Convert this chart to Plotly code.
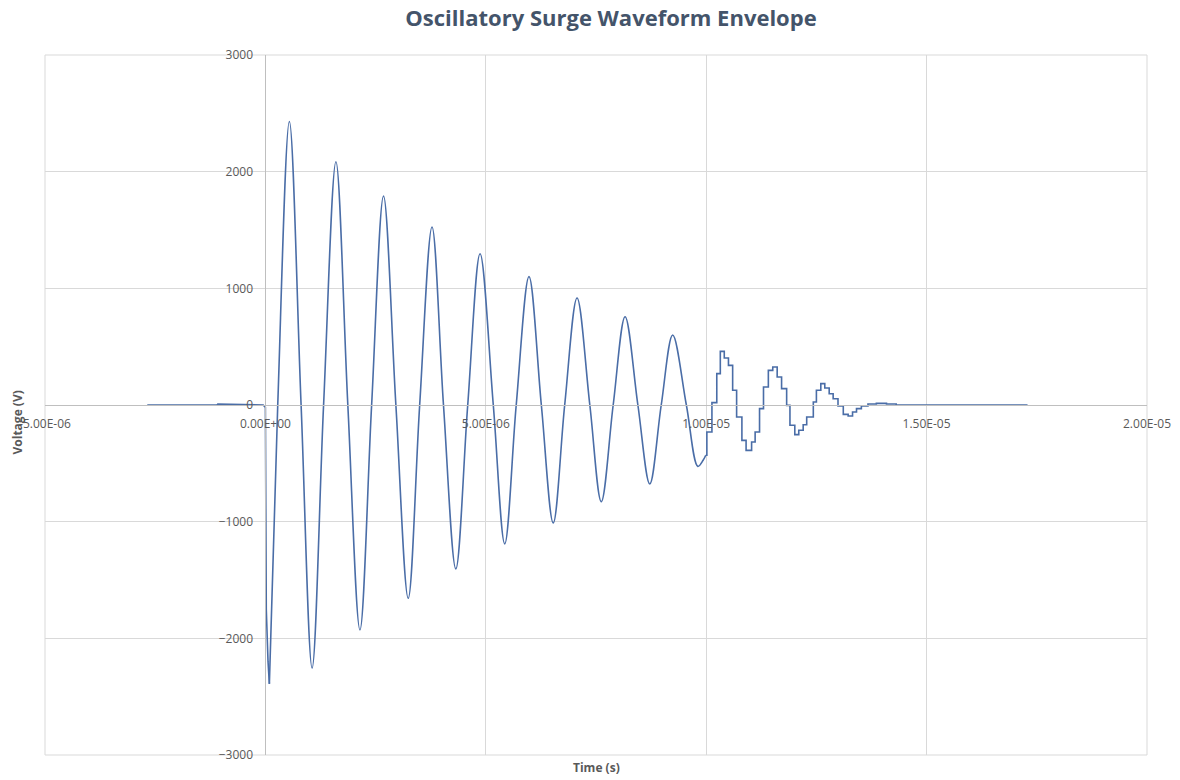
import numpy as np
import plotly.graph_objects as go

# ---- data (time in microseconds, voltage in volts) ----
# pre-trigger baseline and initial fall
t_start_us = [-2.68, -1.10, -1.08, -0.05, 0.00, 0.02, 0.06, 0.09]
v_start = [0, 0, 8, 0, -20, -1750, -2200, -2390]

# smooth ringing part: troughs, zero crossings and peaks
t_ring_us = [0.09, 0.28, 0.544, 0.81, 1.06, 1.32, 1.60, 1.87, 2.145, 2.41, 2.68,
             2.96, 3.24, 3.50, 3.78, 4.04, 4.32, 4.59, 4.87, 5.17, 5.43, 5.69,
             5.98, 6.26, 6.53, 6.79, 7.07, 7.36, 7.62, 7.89, 8.16, 8.45, 8.72,
             8.98, 9.24, 9.55, 9.81, 9.93, 9.99]
v_ring = [-2390, 0, 2430, 0, -2255, 0, 2085, 0, -1928, 0, 1791,
          0, -1657, 0, 1526, 0, -1405, 0, 1297, 0, -1190, 0,
          1100, 0, -1011, 0, 917, 0, -829, 0, 757, 0, -677,
          0, 600, 0, -526, -474, -431]

# stepped (quantised) tail
t_tail_us = [9.99, 10.015, 10.13, 10.24, 10.32, 10.41, 10.505, 10.60, 10.69, 10.81,
             10.905, 11.03, 11.11, 11.21, 11.30, 11.41, 11.51, 11.61, 11.71, 11.825,
             11.90, 12.01, 12.10, 12.20, 12.28, 12.43, 12.50, 12.60, 12.69, 12.79,
             12.88, 12.99, 13.11, 13.22, 13.32, 13.41, 13.52, 13.67, 13.86, 14.09,
             14.31, 17.29]
v_tail = [-431, -231, 20, 269, 460, 403, 340, 126, -103, -303,
          -389, -317, -231, -31, 154, 297, 326, 240, 140, -3,
          -174, -254, -217, -169, -103, 26, 126, 183, 146, 97,
          54, -9, -80, -94, -60, -31, -9, 9, 14, 9,
          0, 0]

x_tick_vals = [-5e-6, 0, 5e-6, 1e-5, 1.5e-5, 2e-5]
x_tick_text = ["-5.00E-06", "0.00E+00", "5.00E-06", "1.00E-05", "1.50E-05", "2.00E-05"]
y_tick_vals = [-3000, -2000, -1000, 0, 1000, 2000, 3000]

US = 1e-6
LINE = "#4A6DA7"
TXT = "#595959"
GRID = "#D9D9D9"
FONT = "Open Sans, Liberation Sans, sans-serif"

W, H = 1180, 780
ML, MR, MT, MB = 45, 33, 55, 25
PW, PH = W - ML - MR, H - MT - MB

fig = go.Figure()
line = dict(color=LINE, width=1.6)
fig.add_trace(go.Scatter(x=np.array(t_start_us) * US, y=v_start, mode="lines",
                         line=dict(line, shape="linear"), showlegend=False))
fig.add_trace(go.Scatter(x=np.array(t_ring_us) * US, y=v_ring, mode="lines",
                         line=dict(line, shape="spline", smoothing=1.0), showlegend=False))
fig.add_trace(go.Scatter(x=np.array(t_tail_us) * US, y=v_tail, mode="lines",
                         line=dict(line, shape="hv"), showlegend=False))

fig.update_layout(
    width=W, height=H,
    margin=dict(l=ML, r=MR, t=MT, b=MB, autoexpand=False),
    paper_bgcolor="white", plot_bgcolor="white",
    font=dict(family=FONT, color=TXT, size=12),
    title=dict(text="<b>Oscillatory Surge Waveform Envelope</b>",
               x=611 / W, xanchor="center", y=1 - 18 / H, yanchor="middle",
               xref="container", yref="container",
               font=dict(family=FONT, size=22, color="#44546A")),
    xaxis=dict(range=[-5e-6, 2e-5], tickvals=x_tick_vals, ticktext=x_tick_text,
               showgrid=True, gridcolor=GRID, gridwidth=1, zeroline=False,
               showline=True, linecolor="#BFBFBF", linewidth=1, automargin=False,
               anchor="free", position=0.5, ticks="", ticklabelstandoff=8,
               tickfont=dict(size=12, color=TXT)),
    yaxis=dict(range=[-3000, 3000], tickvals=y_tick_vals,
               showgrid=True, gridcolor=GRID, gridwidth=1, zeroline=False,
               showline=True, linecolor="#BFBFBF", linewidth=1, automargin=False,
               anchor="free", position=0.2, ticks="", ticklabelstandoff=10,
               tickfont=dict(size=12, color=TXT)),
    annotations=[
        dict(text="<b>Time (s)</b>", x=0.5, y=-12 / PH, xref="paper", yref="paper",
             xanchor="center", yanchor="middle", showarrow=False,
             font=dict(family=FONT, size=12, color=TXT)),
        dict(text="<b>Voltage (V)</b>", x=-28 / PW, y=0.475, xref="paper", yref="paper",
             xanchor="center", yanchor="middle", showarrow=False, textangle=-90,
             font=dict(family=FONT, size=12, color=TXT)),
    ],
    shapes=[
        dict(type="rect", xref="paper", yref="paper", x0=0, x1=1, y0=0, y1=1,
             line=dict(color=GRID, width=1), layer="below"),
    ],
)

# remove the default 8px page margin so the figure sits at the window's corner
fig.write_html("out.html",
               config={"displayModeBar": False},
               post_script="document.body.style.margin='0';"
                           "document.body.style.overflow='hidden';")
